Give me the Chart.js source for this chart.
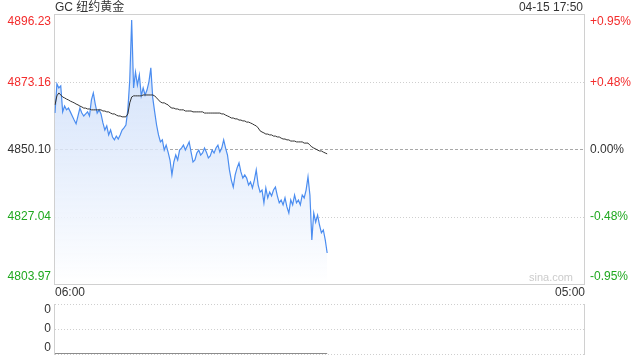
<!DOCTYPE html>
<html>
<head>
<meta charset="utf-8">
<script src="https://cdn.jsdelivr.net/npm/chart.js@4.4.0/dist/chart.umd.min.js"></script>
<style>
  html, body { margin: 0; padding: 0; background: #fff; }
  #wrap { position: relative; width: 640px; height: 360px; }
  #mainBox { position: absolute; left: 0; top: 0; width: 640px; height: 300px; }
  #volBox { position: absolute; left: 0; top: 295px; width: 640px; height: 65px; }
</style>
</head>
<body>
<div id="wrap">
  <div id="mainBox"><canvas id="mainChart"></canvas></div>
  <div id="volBox"><canvas id="volChart"></canvas></div>
</div>
<script>
const title = 'GC 纽约黄金';
const stamp = '04-15 17:50';
const preClose = 4850.10;
const priceTicks = [4803.97, 4827.04, 4850.10, 4873.16, 4896.23];
const pctTicks = ['-0.95%', '-0.48%', '0.00%', '+0.48%', '+0.95%'];
const startLabel = '06:00';
const endLabel = '05:00';

// 5-minute prices from 06:00 to 17:50
const prices = [
  4862.6, 4872.6, 4871.2, 4871.9, 4863.0, 4865.0, 4863.7, 4864.3, 4863.0, 4861.6,
  4860.2, 4858.9, 4861.6, 4864.3, 4862.6, 4861.6, 4862.3, 4863.0, 4861.6, 4867.1,
  4869.5, 4865.7, 4862.6, 4863.7, 4862.3, 4859.2, 4856.8, 4858.2, 4855.1, 4856.8,
  4854.4, 4853.4, 4854.7, 4853.7, 4855.1, 4856.8, 4857.5, 4858.5, 4863.7, 4873.9,
  4894.5, 4871.2, 4876.7, 4872.2, 4875.7, 4868.5, 4871.2, 4868.8, 4870.5, 4873.3,
  4878.1, 4867.8, 4863.0, 4858.5, 4855.1, 4852.7, 4853.4, 4849.9, 4851.6, 4849.2,
  4846.5, 4841.4, 4845.8, 4848.2, 4846.5, 4849.9, 4850.6, 4851.6, 4849.9, 4851.3,
  4852.7, 4849.2, 4845.8, 4846.5, 4848.9, 4849.9, 4848.2, 4848.9, 4850.6, 4849.2,
  4847.2, 4847.9, 4849.9, 4848.9, 4850.6, 4851.6, 4849.2, 4850.6, 4853.4, 4850.6,
  4848.2, 4843.1, 4839.6, 4837.2, 4841.4, 4843.8, 4845.5, 4842.4, 4840.3, 4841.4,
  4840.3, 4837.9, 4839.0, 4836.9, 4839.6, 4843.1, 4837.9, 4835.5, 4836.2, 4831.8,
  4836.9, 4833.5, 4835.5, 4834.2, 4836.2, 4837.2, 4834.2, 4831.8, 4832.8, 4831.1,
  4833.5, 4830.4, 4828.3, 4832.8, 4831.1, 4834.5, 4831.8, 4832.8, 4831.1, 4834.5,
  4833.5, 4836.2, 4840.7, 4834.5, 4819.1, 4828.3, 4825.2, 4827.6, 4824.2, 4821.5,
  4822.5, 4819.1, 4814.6
];

// average price line
const avgPrices = [
  4865.4, 4868.5, 4869.5, 4868.8, 4868.1, 4867.8, 4867.4, 4867.1, 4866.7, 4866.4,
  4866.1, 4865.7, 4865.4, 4865.0, 4864.7, 4864.3, 4864.3, 4864.0, 4864.0, 4863.7,
  4863.7, 4863.7, 4863.7, 4863.7, 4863.7, 4863.3, 4863.3, 4863.0, 4863.0, 4862.6,
  4862.3, 4862.3, 4861.9, 4861.6, 4861.6, 4861.3, 4861.3, 4861.3, 4862.3, 4866.1,
  4868.1, 4868.5, 4868.5, 4868.5, 4868.5, 4868.5, 4868.8, 4868.8, 4868.8, 4868.8,
  4868.8, 4868.8, 4868.5, 4867.8, 4867.1, 4866.4, 4866.1, 4866.1, 4865.7, 4865.4,
  4864.7, 4864.3, 4864.3, 4864.0, 4864.0, 4863.7, 4863.7, 4863.7, 4863.3, 4863.3,
  4863.3, 4863.3, 4863.0, 4863.0, 4863.0, 4863.0, 4863.0, 4863.0, 4862.6, 4862.6,
  4862.6, 4862.6, 4862.6, 4862.6, 4862.6, 4862.6, 4862.6, 4862.3, 4862.3, 4861.9,
  4861.6, 4861.3, 4860.9, 4860.9, 4860.6, 4860.6, 4860.2, 4860.2, 4859.9, 4859.9,
  4859.5, 4859.5, 4859.2, 4858.9, 4858.5, 4858.2, 4857.5, 4856.5, 4856.1, 4855.8,
  4855.4, 4855.4, 4855.1, 4855.1, 4854.7, 4854.7, 4854.4, 4854.4, 4854.0, 4853.7,
  4853.7, 4853.4, 4853.4, 4853.0, 4853.0, 4853.0, 4852.7, 4852.7, 4852.7, 4852.7,
  4852.3, 4852.3, 4852.3, 4851.6, 4851.0, 4850.6, 4850.3, 4849.9, 4849.6, 4849.6,
  4849.2, 4848.9, 4848.6
];

const volumes = prices.map(() => 0);
const volTicks = ['0', '0', '0'];

// time slots every 5 minutes, 06:00 to 05:00 next day
const timeLabels = [];
for (let m = 0; m <= 23 * 60; m += 5) {
  const t = (6 * 60 + m) % (24 * 60);
  timeLabels.push(String(Math.floor(t / 60)).padStart(2, '0') + ':' + String(t % 60).padStart(2, '0'));
}

const FONT = 'Arial, "Liberation Sans", "Noto Sans CJK SC", sans-serif';
const RED = '#f32c2c';
const GREEN = '#1fa81f';
const DARK = '#333';

function tickColor(v) {
  if (Math.abs(v - preClose) < 0.01) return DARK;
  return v > preClose ? RED : GREEN;
}

function hLine(ctx, area, y, color, dash) {
  ctx.save();
  ctx.strokeStyle = color;
  ctx.lineWidth = 1;
  ctx.setLineDash(dash);
  ctx.beginPath();
  ctx.moveTo(area.left, Math.round(y) + 0.5);
  ctx.lineTo(area.right, Math.round(y) + 0.5);
  ctx.stroke();
  ctx.restore();
}

const mainFrame = {
  id: 'mainFrame',
  beforeDatasetsDraw(chart) {
    const ctx = chart.ctx, a = chart.chartArea, ys = chart.scales.y;
    ctx.save();
    ctx.strokeStyle = '#d0d0d0';
    ctx.lineWidth = 1;
    ctx.strokeRect(a.left - 0.5, a.top - 0.5, a.right - a.left + 1, a.bottom - a.top + 1);
    ctx.restore();
    priceTicks.forEach(v => {
      if (v === priceTicks[0] || v === priceTicks[priceTicks.length - 1]) return;
      const y = ys.getPixelForValue(v);
      if (Math.abs(v - preClose) < 0.01) hLine(ctx, a, y, '#a8a8a8', [3, 2]);
      else hLine(ctx, a, y, '#cfcfcf', [1, 2]);
    });
  },
  afterDraw(chart) {
    const ctx = chart.ctx, a = chart.chartArea, ys = chart.scales.y;
    ctx.save();
    ctx.font = '12px ' + FONT;
    priceTicks.forEach((v, i) => {
      const y = ys.getPixelForValue(v);
      let base = 'middle', ty = y;
      if (i === priceTicks.length - 1) { base = 'top'; ty = y + 1; }
      if (i === 0) { base = 'bottom'; ty = y - 1; }
      ctx.textBaseline = base;
      ctx.fillStyle = tickColor(v);
      ctx.textAlign = 'right';
      ctx.fillText(v.toFixed(2), a.left - 4, ty);
      ctx.textAlign = 'left';
      ctx.fillText(pctTicks[i], a.right + 6, ty);
    });
    ctx.fillStyle = DARK;
    ctx.textBaseline = 'middle';
    ctx.textAlign = 'left';
    ctx.fillText(title, a.left, 8);
    ctx.fillText(startLabel, a.left, 293);
    ctx.textAlign = 'right';
    ctx.fillText(stamp, a.right - 1, 8);
    ctx.fillText(endLabel, a.right + 1, 293);
    ctx.font = '11px ' + FONT;
    ctx.fillStyle = '#cccccc';
    ctx.textBaseline = 'bottom';
    ctx.fillText('sina.com', a.right - 11, a.bottom - 1);
    ctx.restore();
  }
};

new Chart(document.getElementById('mainChart'), {
  type: 'line',
  data: {
    labels: timeLabels,
    datasets: [{
      data: avgPrices,
      borderColor: '#333333',
      borderWidth: 1,
      pointRadius: 0,
      fill: false,
      tension: 0
    }, {
      data: prices,
      borderColor: '#4b8df0',
      borderWidth: 1.2,
      pointRadius: 0,
      tension: 0,
      fill: 'start',
      backgroundColor: function (context) {
        const a = context.chart.chartArea;
        if (!a) return 'rgba(75,141,240,0.15)';
        const g = context.chart.ctx.createLinearGradient(0, a.top, 0, a.bottom);
        g.addColorStop(0, 'rgba(190,212,248,0.75)');
        g.addColorStop(1, 'rgba(255,255,255,0.9)');
        return g;
      }
    }]
  },
  options: {
    responsive: true,
    maintainAspectRatio: false,
    animation: false,
    layout: { padding: { left: 55, right: 56, top: 15, bottom: 16 } },
    plugins: { legend: { display: false }, tooltip: { enabled: false } },
    scales: {
      x: { display: false, offset: false },
      y: { display: false, min: priceTicks[0], max: priceTicks[priceTicks.length - 1] }
    }
  },
  plugins: [mainFrame]
});

const volFrame = {
  id: 'volFrame',
  beforeDatasetsDraw(chart) {
    const ctx = chart.ctx, a = chart.chartArea;
    ctx.save();
    ctx.strokeStyle = '#d0d0d0';
    ctx.lineWidth = 1;
    ctx.beginPath();
    ctx.moveTo(a.left - 0.5, a.top);
    ctx.lineTo(a.left - 0.5, a.bottom + 1);
    ctx.moveTo(a.right + 0.5, a.top);
    ctx.lineTo(a.right + 0.5, a.bottom + 1);
    ctx.stroke();
    ctx.restore();
    const mid = (a.top + a.bottom) / 2;
    [a.top, mid, a.bottom].forEach(y => hLine(ctx, a, y, '#cfcfcf', [1, 2]));
  },
  afterDraw(chart) {
    const ctx = chart.ctx, a = chart.chartArea;
    const mid = (a.top + a.bottom) / 2;
    ctx.save();
    ctx.font = '12px ' + FONT;
    ctx.fillStyle = DARK;
    ctx.textAlign = 'right';
    ctx.textBaseline = 'top';
    ctx.fillText(volTicks[0], a.left - 4, a.top);
    ctx.textBaseline = 'middle';
    ctx.fillText(volTicks[1], a.left - 4, mid);
    ctx.textBaseline = 'bottom';
    ctx.fillText(volTicks[2], a.left - 4, a.bottom);
    ctx.restore();
  }
};

new Chart(document.getElementById('volChart'), {
  type: 'line',
  data: {
    labels: timeLabels,
    datasets: [{
      data: volumes,
      borderColor: '#666666',
      borderWidth: 1.5,
      pointRadius: 0,
      fill: false
    }]
  },
  options: {
    responsive: true,
    maintainAspectRatio: false,
    animation: false,
    layout: { padding: { left: 55, right: 56, top: 9, bottom: 6 } },
    plugins: { legend: { display: false }, tooltip: { enabled: false } },
    scales: {
      x: { display: false, offset: false },
      y: { display: false, min: 0, max: 1 }
    }
  },
  plugins: [volFrame]
});
</script>
</body>
</html>
